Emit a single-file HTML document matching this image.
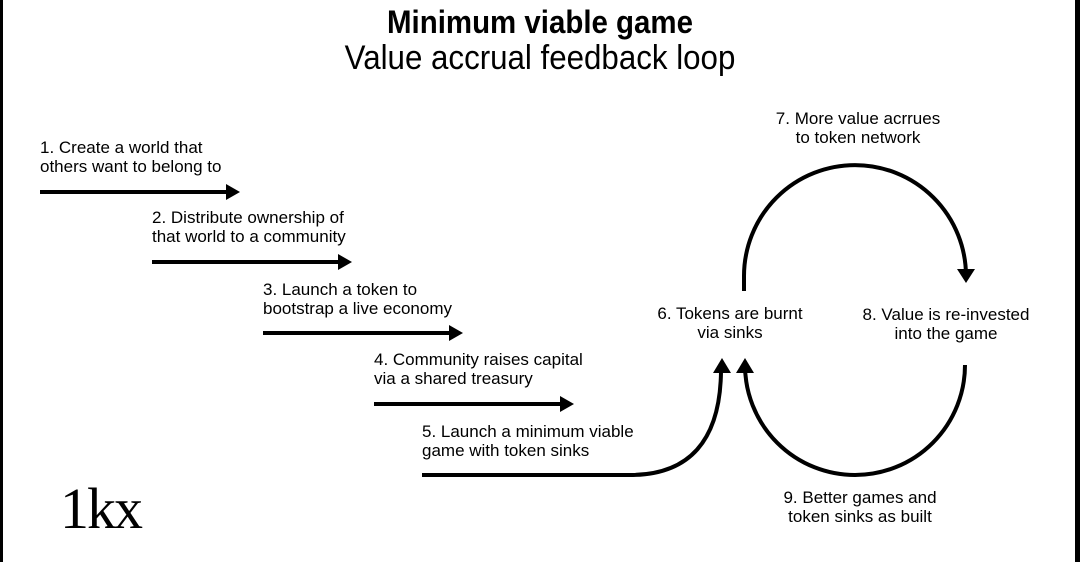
<!DOCTYPE html>
<html><head><meta charset="utf-8"><style>
body{margin:0;width:1080px;height:562px;background:#fff;overflow:hidden;position:relative;font-family:"Liberation Sans",sans-serif;}
.t{position:absolute;font-size:17px;line-height:19px;color:#000;white-space:nowrap}
.c{text-align:center}
</style></head><body>
<div style="position:absolute;left:0;top:0;width:3px;height:562px;background:#000"></div>
<div style="position:absolute;right:0;top:0;width:5px;height:562px;background:#000"></div>
<div class="t c" style="left:0;width:1080px;top:4px;font-size:32px;line-height:36px;font-weight:bold;transform:scaleX(0.92)">Minimum viable game</div>
<div class="t c" style="left:0;width:1080px;top:38px;font-size:34px;line-height:40px;transform:scaleX(0.92)">Value accrual feedback loop</div>

<div class="t" style="left:40px;top:138px">1. Create a world that<br>others want to belong to</div>
<div class="t" style="left:152px;top:208px">2. Distribute ownership of<br>that world to a community</div>
<div class="t" style="left:263px;top:280px">3. Launch a token to<br>bootstrap a live economy</div>
<div class="t" style="left:374px;top:350px">4. Community raises capital<br>via a shared treasury</div>
<div class="t" style="left:422px;top:422px">5. Launch a minimum viable<br>game with token sinks</div>
<div class="t c" style="left:620px;width:220px;top:304px">6. Tokens are burnt<br>via sinks</div>
<div class="t c" style="left:748px;width:220px;top:109px">7. More value acrrues<br>to token network</div>
<div class="t c" style="left:836px;width:220px;top:305px">8. Value is re-invested<br>into the game</div>
<div class="t c" style="left:750px;width:220px;top:488px">9. Better games and<br>token sinks as built</div>

<svg width="1080" height="562" style="position:absolute;left:0;top:0">
<text x="60" y="528" font-family="Liberation Serif, serif" font-size="58" letter-spacing="-2" fill="#000">1kx</text>
<g stroke="#000" stroke-width="4" fill="none">
<line x1="40" y1="192" x2="228" y2="192"/>
<line x1="152" y1="262" x2="340" y2="262"/>
<line x1="263" y1="333" x2="451" y2="333"/>
<line x1="374" y1="404" x2="562" y2="404"/>
<path d="M422,475 L630,475 C690,475 720,440 721,372"/>
<path d="M744,291 L744,276 A111,111 0 0 1 966,276 L966,270"/>
<path d="M965,365 A110,110 0 0 1 745,365 L745,372"/>
</g>
<g fill="#000">
<polygon points="240,192 226,184 226,200"/>
<polygon points="352,262 338,254 338,270"/>
<polygon points="463,333 449,325 449,341"/>
<polygon points="574,404 560,396 560,412"/>
<polygon points="722,358 713,373 731,373"/>
<polygon points="745,358 736,373 754,373"/>
<polygon points="966,283 957,269 975,269"/>
</g>
</svg>
</body></html>
